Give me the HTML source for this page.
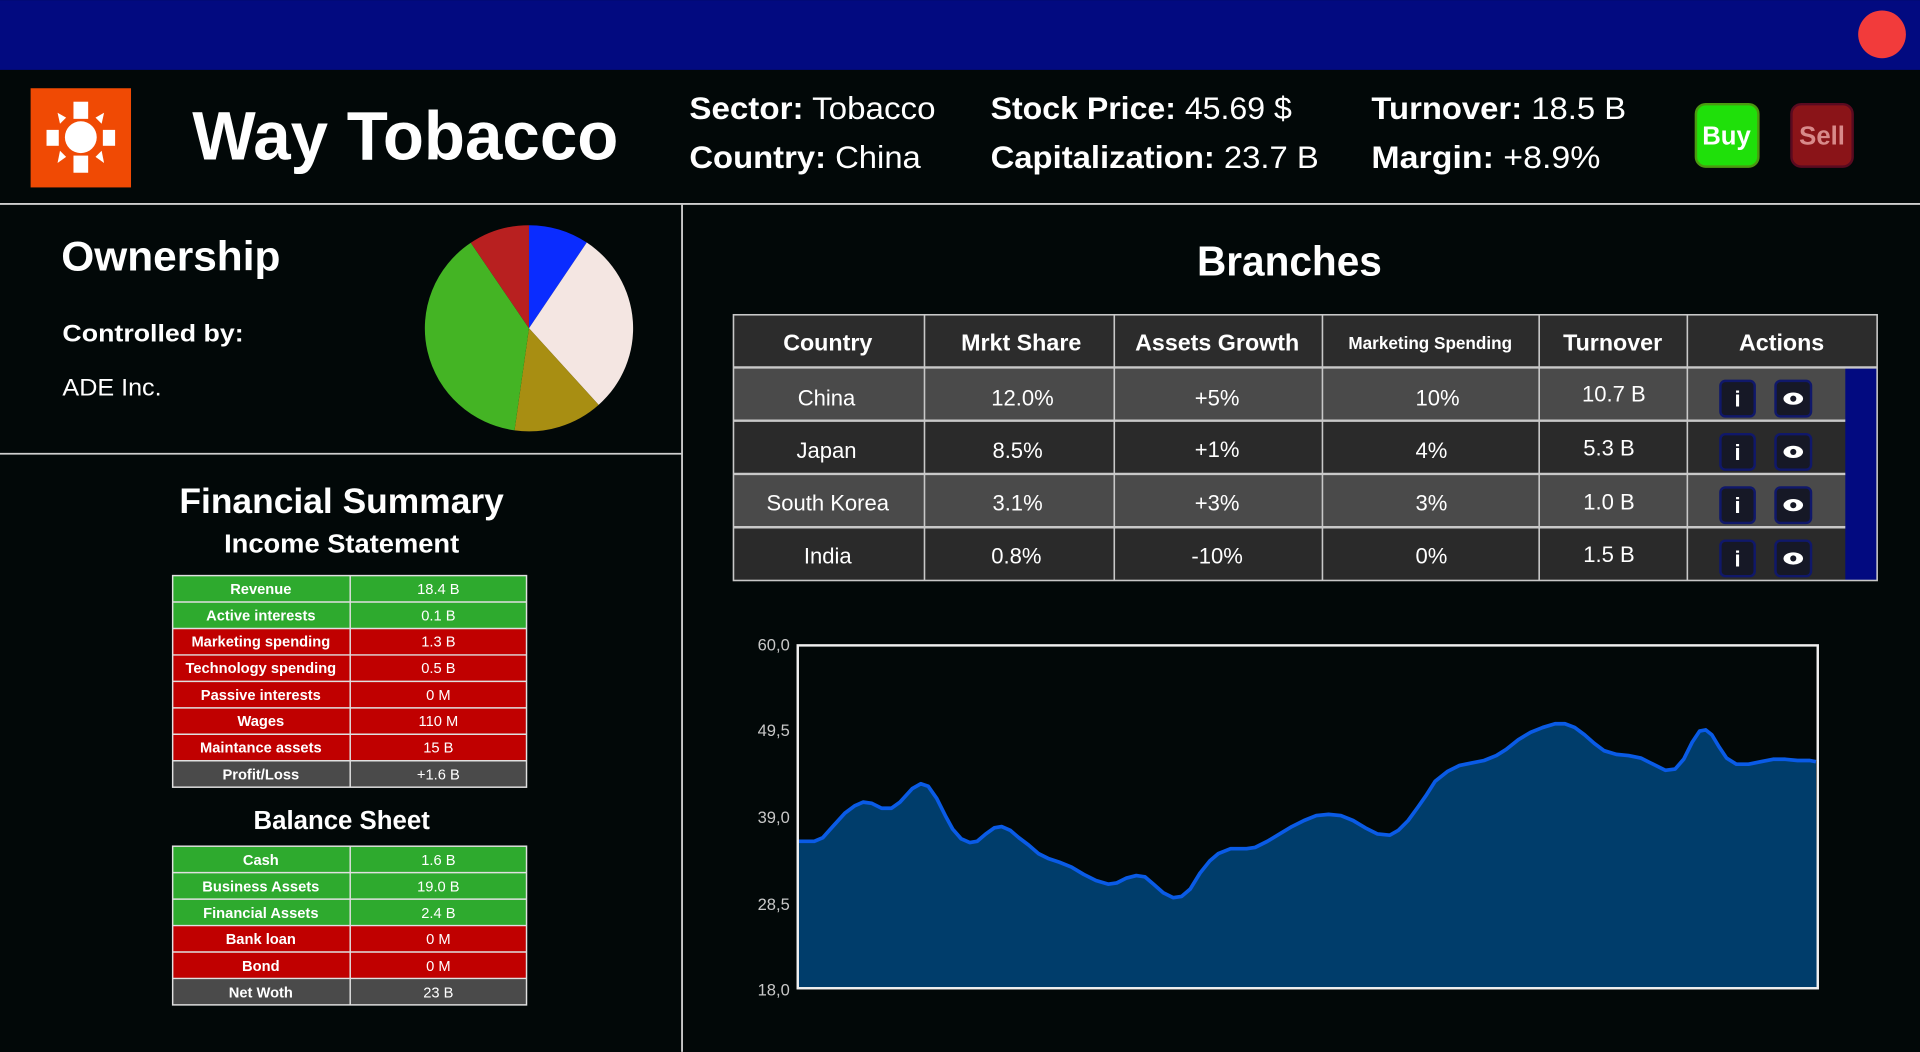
<!DOCTYPE html>
<html><head><meta charset="utf-8"><style>
html,body{margin:0;padding:0;background:#020808;width:1920px;height:1052px;overflow:hidden}
svg{display:block}
text{font-family:"Liberation Sans",sans-serif}
</style></head><body>
<svg width="1920" height="1052" viewBox="0 0 1568 859" xmlns="http://www.w3.org/2000/svg">
<rect width="1568" height="859" fill="#020808"/>
<rect width="1568" height="57" fill="#020a80"/>
<circle cx="1537" cy="28" r="19.5" fill="#f23b3b"/>
<!-- logo -->
<rect x="25" y="72" width="82" height="81" fill="#f04a04"/>
<g fill="#fff">
<circle cx="66" cy="112" r="13"/>
<rect x="60" y="83" width="12" height="14"/>
<rect x="60" y="127" width="12" height="14"/>
<rect x="38" y="106" width="10" height="13"/>
<rect x="84" y="106" width="10" height="13"/>
<polygon points="47,92 54,96 49,101"/><polygon points="85,92 78,96 83,101"/>
<polygon points="47,133 54,128 49,123"/><polygon points="85,133 78,128 83,123"/>
</g>
<text x="157" y="130" font-size="56" font-weight="bold" fill="#fff" textLength="348" lengthAdjust="spacingAndGlyphs">Way Tobacco</text>
<g font-size="26" fill="#fff">
<text x="563" y="97" textLength="201" lengthAdjust="spacingAndGlyphs"><tspan font-weight="bold">Sector:</tspan> Tobacco</text>
<text x="563" y="137" textLength="189" lengthAdjust="spacingAndGlyphs"><tspan font-weight="bold">Country:</tspan> China</text>
<text x="809" y="97" textLength="246" lengthAdjust="spacingAndGlyphs"><tspan font-weight="bold">Stock Price:</tspan> 45.69 $</text>
<text x="809" y="137" textLength="268" lengthAdjust="spacingAndGlyphs"><tspan font-weight="bold">Capitalization:</tspan> 23.7 B</text>
<text x="1120" y="97" textLength="208" lengthAdjust="spacingAndGlyphs"><tspan font-weight="bold">Turnover:</tspan> 18.5 B</text>
<text x="1120" y="137" textLength="187" lengthAdjust="spacingAndGlyphs"><tspan font-weight="bold">Margin:</tspan> +8.9%</text>
</g>
<rect x="1385" y="85" width="51" height="51" rx="8" fill="#1fe00a" stroke="#4a9a10" stroke-width="2"/>
<text x="1410" y="118" font-size="21" font-weight="bold" fill="#fff" text-anchor="middle">Buy</text>
<rect x="1463" y="85" width="50" height="51" rx="8" fill="#8a1418" stroke="#5a0a20" stroke-width="2"/>
<text x="1488" y="118" font-size="21" font-weight="bold" fill="#d88a8a" text-anchor="middle">Sell</text>
<!-- dividers -->
<line x1="0" y1="166.5" x2="1568" y2="166.5" stroke="#cfcfcf" stroke-width="1.5"/>
<line x1="557" y1="167" x2="557" y2="859" stroke="#cfcfcf" stroke-width="1.5"/>
<line x1="0" y1="370.5" x2="557" y2="370.5" stroke="#cfcfcf" stroke-width="1.5"/>
<!-- ownership -->
<text x="50" y="221" font-size="34" font-weight="bold" fill="#fff" textLength="179" lengthAdjust="spacingAndGlyphs">Ownership</text>
<text x="51" y="279" font-size="20" font-weight="bold" fill="#fff" textLength="148" lengthAdjust="spacingAndGlyphs">Controlled by:</text>
<text x="51" y="323" font-size="20" fill="#fff" textLength="81" lengthAdjust="spacingAndGlyphs">ADE Inc.</text>
<g transform="translate(432,268) scale(1,0.99)">
<path d="M0,0 L0,-85 A85,85 0 0 1 47.2,-70.7 Z" fill="#0a2cff"/>
<path d="M0,0 L47.2,-70.7 A85,85 0 0 1 56.9,63.2 Z" fill="#f4e6e2"/>
<path d="M0,0 L56.9,63.2 A85,85 0 0 1 -11.8,84.2 Z" fill="#a88e12"/>
<path d="M0,0 L-11.8,84.2 A85,85 0 0 1 -47.5,-70.5 Z" fill="#44b424"/>
<path d="M0,0 L-47.5,-70.5 A85,85 0 0 1 0,-85 Z" fill="#b82020"/>
</g>
<!-- financial summary -->
<text x="279" y="419" font-size="29" font-weight="bold" fill="#fff" text-anchor="middle" textLength="265" lengthAdjust="spacingAndGlyphs">Financial Summary</text>
<text x="279" y="451" font-size="21" font-weight="bold" fill="#fff" text-anchor="middle" textLength="192" lengthAdjust="spacingAndGlyphs">Income Statement</text>
<g font-size="12" fill="#fff" text-anchor="middle" stroke="none">
<rect x="141" y="470" width="289" height="21.6" fill="#2eaa2e"/><rect x="141" y="491.6" width="289" height="21.6" fill="#2eaa2e"/>
<rect x="141" y="513.2" width="289" height="108" fill="#c00000"/>
<rect x="141" y="621.2" width="289" height="21.6" fill="#4a4a4a"/>
<g stroke="#e0e0e0" stroke-width="1.2" fill="none">
<rect x="141" y="470" width="289" height="172.8"/>
<line x1="286" y1="470" x2="286" y2="642.8"/>
<line x1="141" y1="491.6" x2="430" y2="491.6"/><line x1="141" y1="513.2" x2="430" y2="513.2"/><line x1="141" y1="534.8" x2="430" y2="534.8"/><line x1="141" y1="556.4" x2="430" y2="556.4"/><line x1="141" y1="578" x2="430" y2="578"/><line x1="141" y1="599.6" x2="430" y2="599.6"/><line x1="141" y1="621.2" x2="430" y2="621.2"/>
</g>
<g font-weight="bold">
<text x="213" y="485">Revenue</text><text x="213" y="506.5">Active interests</text><text x="213" y="528">Marketing spending</text><text x="213" y="549.5">Technology spending</text><text x="213" y="571.5">Passive interests</text><text x="213" y="593">Wages</text><text x="213" y="614.5">Maintance assets</text><text x="213" y="636.5">Profit/Loss</text>
</g>
<text x="358" y="485">18.4 B</text><text x="358" y="506.5">0.1 B</text><text x="358" y="528">1.3 B</text><text x="358" y="549.5">0.5 B</text><text x="358" y="571.5">0 M</text><text x="358" y="593">110 M</text><text x="358" y="614.5">15 B</text><text x="358" y="636.5">+1.6 B</text>
</g>
<text x="279" y="677" font-size="21" font-weight="bold" fill="#fff" text-anchor="middle" textLength="144" lengthAdjust="spacingAndGlyphs">Balance Sheet</text>
<g font-size="12" fill="#fff" text-anchor="middle">
<rect x="141" y="691" width="289" height="64.8" fill="#2eaa2e"/>
<rect x="141" y="755.8" width="289" height="43.2" fill="#c00000"/>
<rect x="141" y="799" width="289" height="21.6" fill="#4a4a4a"/>
<g stroke="#e0e0e0" stroke-width="1.2" fill="none">
<rect x="141" y="691" width="289" height="129.6"/>
<line x1="286" y1="691" x2="286" y2="820.6"/>
<line x1="141" y1="712.6" x2="430" y2="712.6"/><line x1="141" y1="734.2" x2="430" y2="734.2"/><line x1="141" y1="755.8" x2="430" y2="755.8"/><line x1="141" y1="777.4" x2="430" y2="777.4"/><line x1="141" y1="799" x2="430" y2="799"/>
</g>
<g font-weight="bold">
<text x="213" y="706.5">Cash</text><text x="213" y="728">Business Assets</text><text x="213" y="749.5">Financial Assets</text><text x="213" y="771">Bank loan</text><text x="213" y="793">Bond</text><text x="213" y="814.5">Net Woth</text>
</g>
<text x="358" y="706.5">1.6 B</text><text x="358" y="728">19.0 B</text><text x="358" y="749.5">2.4 B</text><text x="358" y="771">0 M</text><text x="358" y="793">0 M</text><text x="358" y="814.5">23 B</text>
</g>
<!-- branches -->
<text x="1053" y="225" font-size="34" font-weight="bold" fill="#fff" text-anchor="middle" textLength="151" lengthAdjust="spacingAndGlyphs">Branches</text>
<rect x="599" y="257" width="934" height="43" fill="#2c2c2c"/>
<rect x="599" y="300" width="934" height="43.5" fill="#4a4a4a"/>
<rect x="599" y="343.5" width="934" height="43.5" fill="#2a2a2a"/>
<rect x="599" y="387" width="934" height="43.5" fill="#4a4a4a"/>
<rect x="599" y="430.5" width="934" height="43.5" fill="#2a2a2a"/>
<rect x="1507" y="300" width="26" height="174" fill="#020a80"/>
<g stroke="#c8c8c8" stroke-width="1.3" fill="none">
<rect x="599" y="257" width="934" height="217"/>
<line x1="599" y1="300" x2="1533" y2="300" stroke-width="2"/>
<line x1="599" y1="343.5" x2="1507" y2="343.5" stroke-width="2"/><line x1="599" y1="387" x2="1507" y2="387" stroke-width="2"/><line x1="599" y1="430.5" x2="1507" y2="430.5" stroke-width="2"/>
<line x1="755" y1="257" x2="755" y2="474"/><line x1="910" y1="257" x2="910" y2="474"/><line x1="1080" y1="257" x2="1080" y2="474"/><line x1="1257" y1="257" x2="1257" y2="474"/><line x1="1378" y1="257" x2="1378" y2="474"/>
</g>
<g fill="#fff" text-anchor="middle" font-weight="bold" font-size="19">
<text x="676" y="286">Country</text><text x="834" y="286">Mrkt Share</text><text x="994" y="286">Assets Growth</text><text x="1168" y="285" font-size="14">Marketing Spending</text><text x="1317" y="286">Turnover</text><text x="1455" y="286">Actions</text>
</g>
<g fill="#fff" text-anchor="middle" font-size="18">
<text x="675" y="331">China</text><text x="835" y="331">12.0%</text><text x="994" y="331">+5%</text><text x="1174" y="331">10%</text><text x="1318" y="328">10.7 B</text>
<text x="675" y="374">Japan</text><text x="831" y="374">8.5%</text><text x="994" y="373">+1%</text><text x="1169" y="374">4%</text><text x="1314" y="372">5.3 B</text>
<text x="676" y="417">South Korea</text><text x="831" y="417">3.1%</text><text x="994" y="417">+3%</text><text x="1169" y="417">3%</text><text x="1314" y="416">1.0 B</text>
<text x="676" y="460">India</text><text x="830" y="460">0.8%</text><text x="994" y="460">-10%</text><text x="1169" y="460">0%</text><text x="1314" y="459">1.5 B</text>
</g>
<g>
<g id="acts">
<rect x="1405" y="311" width="28" height="29" rx="4" fill="#161826" stroke="#10186a" stroke-width="2"/>
<text x="1419" y="332" font-size="18" font-weight="bold" fill="#fff" text-anchor="middle">i</text>
<rect x="1450" y="311" width="29" height="29" rx="4" fill="#161826" stroke="#10186a" stroke-width="2"/>
<ellipse cx="1464.5" cy="325.5" rx="8" ry="5" fill="#fff"/><circle cx="1464.5" cy="325.5" r="2.5" fill="#161826"/>
</g>
<use href="#acts" transform="translate(0,43.5)"/>
<use href="#acts" transform="translate(0,87)"/>
<use href="#acts" transform="translate(0,130.5)"/>
</g>
<!-- chart -->
<g font-size="13.5" fill="#c8c8c8" text-anchor="end">
<text x="645" y="531">60,0</text><text x="645" y="601">49,5</text><text x="645" y="672">39,0</text><text x="645" y="743">28,5</text><text x="645" y="813">18,0</text>
</g>
<polygon fill="#003d6b" points="652,807 652,687 665,687 672,684 680,675 690,664 698,658 705,655 712,656 720,660 728,660 735,655 745,644 752,640 758,642 765,652 772,666 778,677 785,685 792,688 798,687 805,681 812,676 818,675 825,678 832,684 840,690 848,697 856,701 865,704 875,708 885,714 895,719 905,722 912,721 920,717 928,715 935,716 942,722 950,729 958,733 965,732 972,726 980,713 988,703 995,697 1005,693 1018,693 1025,692 1035,687 1045,681 1055,675 1065,670 1075,666 1085,665 1095,666 1105,670 1115,676 1125,681 1135,682 1142,678 1150,670 1158,659 1165,649 1172,638 1182,630 1192,625 1202,623 1212,621 1222,617 1230,612 1240,604 1250,598 1260,594 1270,591 1278,591 1286,594 1294,600 1302,607 1310,613 1320,616 1330,617 1340,619 1350,624 1360,629 1368,628 1375,620 1382,606 1388,597 1393,596 1398,600 1404,610 1410,619 1418,624 1428,624 1438,622 1448,620 1458,620 1468,621 1478,621 1483,622 1484,807"/>
<polyline fill="none" stroke="#0a5be6" stroke-width="3" stroke-linejoin="round" points="652,687 665,687 672,684 680,675 690,664 698,658 705,655 712,656 720,660 728,660 735,655 745,644 752,640 758,642 765,652 772,666 778,677 785,685 792,688 798,687 805,681 812,676 818,675 825,678 832,684 840,690 848,697 856,701 865,704 875,708 885,714 895,719 905,722 912,721 920,717 928,715 935,716 942,722 950,729 958,733 965,732 972,726 980,713 988,703 995,697 1005,693 1018,693 1025,692 1035,687 1045,681 1055,675 1065,670 1075,666 1085,665 1095,666 1105,670 1115,676 1125,681 1135,682 1142,678 1150,670 1158,659 1165,649 1172,638 1182,630 1192,625 1202,623 1212,621 1222,617 1230,612 1240,604 1250,598 1260,594 1270,591 1278,591 1286,594 1294,600 1302,607 1310,613 1320,616 1330,617 1340,619 1350,624 1360,629 1368,628 1375,620 1382,606 1388,597 1393,596 1398,600 1404,610 1410,619 1418,624 1428,624 1438,622 1448,620 1458,620 1468,621 1478,621 1483,622"/>
<rect x="651.5" y="527" width="833" height="280" fill="none" stroke="#f0f0f0" stroke-width="2"/>
</svg>
</body></html>
